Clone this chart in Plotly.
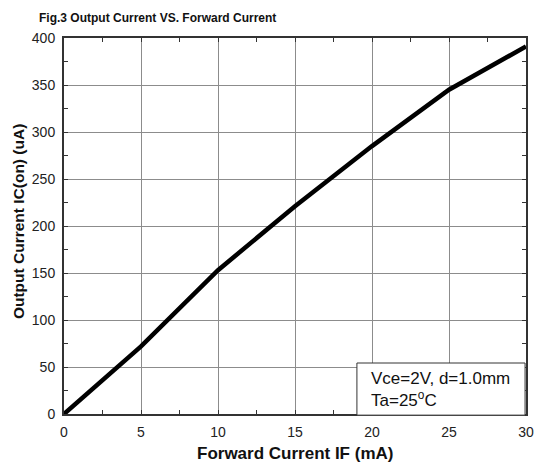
import plotly.graph_objects as go

forward_current = [0, 5, 10, 15, 20, 25, 30]
output_current = [0, 72, 153, 221, 285, 345, 391]

x_ticks = [0, 5, 10, 15, 20, 25, 30]
y_ticks = [0, 50, 100, 150, 200, 250, 300, 350, 400]

FONT = "Liberation Sans, Arial, sans-serif"

fig = go.Figure()
fig.add_trace(go.Scatter(x=forward_current, y=output_current, mode="lines",
                         line=dict(color="black", width=4.5), showlegend=False))

axis_common = dict(
    showgrid=True, gridcolor="#8c8c8c", gridwidth=1,
    showline=True, linecolor="#333333", linewidth=2, mirror="ticks",
    ticks="inside", ticklen=4, tickcolor="#333333", tickwidth=1,
    tickfont=dict(family=FONT, size=14, color="#222222"),
    zeroline=False, automargin=False,
    minor=dict(ticks="inside", ticklen=4, tickcolor="#333333", showgrid=False),
)

fig.update_xaxes(range=[0, 30], tickvals=x_ticks, minor_dtick=2.5,
                 ticklabelstandoff=4, **axis_common)
fig.update_yaxes(range=[0, 400], tickvals=y_ticks, minor_dtick=25,
                 ticklabelstandoff=4, **axis_common)

# chart title
fig.add_annotation(xref="paper", yref="paper", x=-0.058, y=1 + 20/376,
                   xanchor="left", yanchor="middle", showarrow=False,
                   text="<b>Fig.3 Output Current VS. Forward Current</b>",
                   font=dict(family=FONT, size=12, color="#111111"))

# axis titles
fig.add_annotation(xref="paper", yref="paper", x=0.5, y=-0.104,
                   xanchor="center", yanchor="middle", showarrow=False,
                   text="<b>Forward Current IF (mA)</b>",
                   font=dict(family=FONT, size=17, color="#111111"))
fig.add_annotation(xref="paper", yref="paper", x=-0.0996, y=0.513,
                   xanchor="center", yanchor="middle", showarrow=False, textangle=-90,
                   text="<b>Output Current IC(on) (uA)</b>",
                   font=dict(family=FONT, size=15.5, color="#111111"))

# condition box
fig.add_shape(type="rect", xref="paper", yref="paper",
              x0=0.634, x1=0.998, y0=-0.003, y1=0.1356,
              line=dict(color="#333333", width=1), fillcolor="white", layer="above")
fig.add_annotation(xref="paper", yref="paper", x=0.660, y=0.066,
                   xanchor="left", yanchor="middle", showarrow=False, align="left",
                   text="Vce=2V, d=1.0mm<br>Ta=25<sup>o</sup>C",
                   font=dict(family=FONT, size=17, color="#111111"))

fig.update_layout(
    width=534, height=468,
    margin=dict(l=64, r=8, t=38, b=54),
    paper_bgcolor="white", plot_bgcolor="white",
)

fig.write_html("out.html", config={"displayModeBar": False},
               post_script="document.body.style.margin='0';document.body.style.overflow='hidden';")
